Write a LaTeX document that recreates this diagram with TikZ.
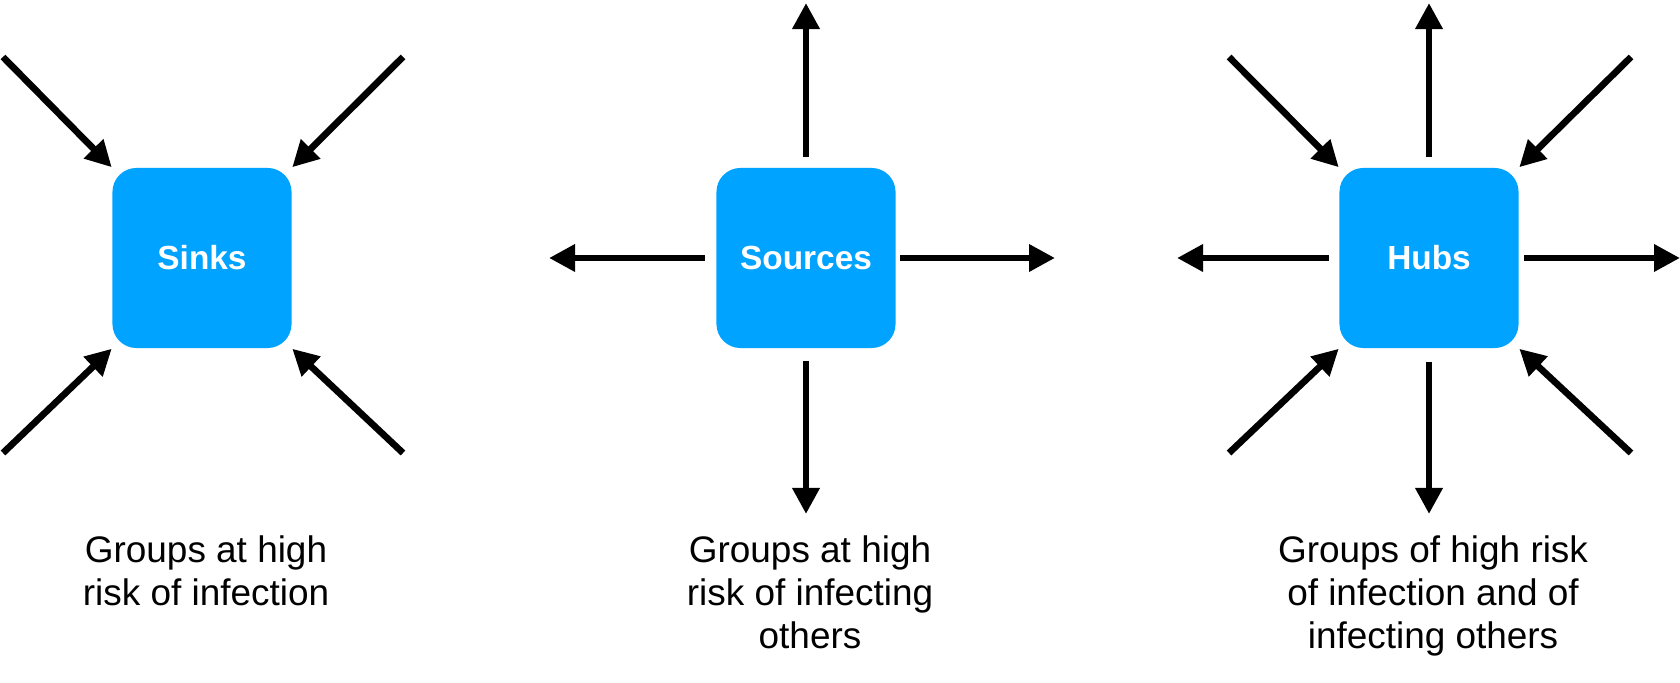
\documentclass[tikz,border=0pt]{standalone}
\usepackage{fontspec}
\setmainfont{Liberation Sans}
\usetikzlibrary{arrows.meta}
\definecolor{boxblue}{RGB}{0,163,255}
\begin{document}
\begin{tikzpicture}[x=0.01cm,y=-0.01cm,%
    grp/.style={rectangle,rounded corners=0.24cm,fill=boxblue,minimum width=1.79cm,
      minimum height=1.8cm,inner sep=0pt,text=white,font=\fontsize{9.5}{11}\selectfont\bfseries},
    arr/.style={line width=1.9pt,-{Triangle[length=2.6mm,width=2.6mm]}},
    caption/.style={anchor=north,align=center,inner sep=0pt,font=\fontsize{10.5}{12.2}\selectfont}
  ]
		\useasboundingbox (0,0) rectangle (1680,683);

		% the three kinds of groups
		\node at (202,258) [grp] (sinks) {Sinks};
		\node at (806,258) [grp] (sources) {Sources};
		\node at (1429,258) [grp] (hubs) {Hubs};

		\node at (206,535) [caption] (capsinks) {Groups at high\\risk of infection};
		\node at (810,535) [caption] (capsources) {Groups at high\\risk of infecting\\others};
		\node at (1433,535) [caption] (caphubs) {Groups of high risk\\of infection and of\\infecting others};

		% sinks: four arrows in
		\coordinate (si1) at (3,57);
		\coordinate (si2) at (403,57);
		\coordinate (si3) at (3,453);
		\coordinate (si4) at (403,453);
		\draw[arr] (si1) -- (sinks.north west);
		\draw[arr] (si2) -- (sinks.north east);
		\draw[arr] (si3) -- (sinks.south west);
		\draw[arr] (si4) -- (sinks.south east);

		% sources: four arrows out
		\coordinate (so1) at (806,3);
		\coordinate (so2) at (806,514);
		\coordinate (so3) at (549,258);
		\coordinate (so4) at (1055,258);
		\draw[arr,shorten <=1mm] (sources) -- (so1);
		\draw[arr,shorten <=1.2mm] (sources) -- (so2);
		\draw[arr,shorten <=1.1mm] (sources) -- (so3);
		\draw[arr,shorten <=0.4mm] (sources) -- (so4);

		% hubs: four arrows in, four arrows out
		\coordinate (hi1) at (1229,57);
		\coordinate (hi2) at (1631,57);
		\coordinate (hi3) at (1229,453);
		\coordinate (hi4) at (1631,453);
		\draw[arr] (hi1) -- (hubs.north west);
		\draw[arr] (hi2) -- (hubs.north east);
		\draw[arr] (hi3) -- (hubs.south west);
		\draw[arr] (hi4) -- (hubs.south east);

		\coordinate (ho1) at (1429,3);
		\coordinate (ho2) at (1429,514);
		\coordinate (ho3) at (1177,258);
		\coordinate (ho4) at (1680,258);
		\draw[arr,shorten <=1mm] (hubs) -- (ho1);
		\draw[arr,shorten <=1.3mm] (hubs) -- (ho2);
		\draw[arr,shorten <=1mm] (hubs) -- (ho3);
		\draw[arr,shorten <=0.45mm] (hubs) -- (ho4);
	\end{tikzpicture}
\end{document}
